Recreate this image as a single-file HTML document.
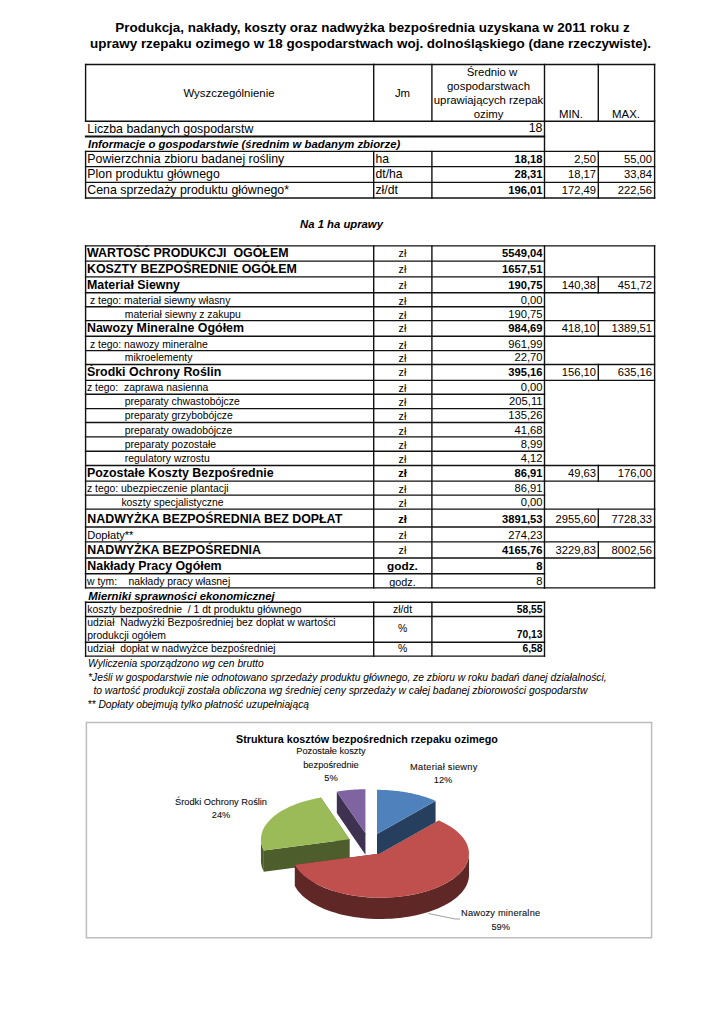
<!DOCTYPE html>
<html><head><meta charset="utf-8"><style>
html,body{margin:0;padding:0;background:#fff;}
body{width:724px;height:1024px;position:relative;overflow:hidden;font-family:"Liberation Sans", sans-serif;}
.t{position:absolute;white-space:pre;color:#000;}
.l{position:absolute;box-sizing:border-box;}
</style></head><body>
<div class="t" style="left:-127.50px;width:1000px;text-align:center;top:20.71px;font-size:13.45px;line-height:13.45px;font-weight:bold;font-style:normal;color:#000;">Produkcja, nakłady, koszty oraz nadwyżka bezpośrednia uzyskana w 2011 roku z</div>
<div class="t" style="left:-129.50px;width:1000px;text-align:center;top:37.31px;font-size:13.45px;line-height:13.45px;font-weight:bold;font-style:normal;color:#000;">uprawy rzepaku ozimego w 18 gospodarstwach woj. dolnośląskiego (dane rzeczywiste).</div>
<div class="t" style="left:-271.00px;width:1000px;text-align:center;top:87.75px;font-size:11.4px;line-height:11.4px;font-weight:normal;font-style:normal;color:#000;">Wyszczególnienie</div>
<div class="t" style="left:-97.50px;width:1000px;text-align:center;top:87.75px;font-size:11.4px;line-height:11.4px;font-weight:normal;font-style:normal;color:#000;">Jm</div>
<div class="t" style="left:-8.00px;width:1000px;text-align:center;top:66.95px;font-size:11.4px;line-height:11.4px;font-weight:normal;font-style:normal;color:#000;">Średnio w</div>
<div class="t" style="left:-11.50px;width:1000px;text-align:center;top:80.85px;font-size:11.4px;line-height:11.4px;font-weight:normal;font-style:normal;color:#000;">gospodarstwach</div>
<div class="t" style="left:-11.50px;width:1000px;text-align:center;top:94.75px;font-size:11.4px;line-height:11.4px;font-weight:normal;font-style:normal;color:#000;">uprawiających rzepak</div>
<div class="t" style="left:-11.50px;width:1000px;text-align:center;top:108.65px;font-size:11.4px;line-height:11.4px;font-weight:normal;font-style:normal;color:#000;">ozimy</div>
<div class="t" style="left:71.00px;width:1000px;text-align:center;top:108.75px;font-size:11.4px;line-height:11.4px;font-weight:normal;font-style:normal;color:#000;">MIN.</div>
<div class="t" style="left:126.00px;width:1000px;text-align:center;top:108.75px;font-size:11.4px;line-height:11.4px;font-weight:normal;font-style:normal;color:#000;">MAX.</div>
<div class="t" style="left:87.30px;top:122.65px;font-size:12.35px;line-height:12.35px;font-weight:normal;font-style:normal;color:#000;">Liczba badanych gospodarstw</div>
<div class="t" style="left:-457.50px;width:1000px;text-align:right;top:122.30px;font-size:12.4px;line-height:12.4px;font-weight:normal;font-style:normal;color:#000;">18</div>
<div class="t" style="left:88.00px;top:139.21px;font-size:11.33px;line-height:11.33px;font-weight:bold;font-style:italic;color:#000;">Informacje o gospodarstwie (średnim w badanym zbiorze)</div>
<div class="t" style="left:87.30px;top:153.35px;font-size:12.35px;line-height:12.35px;font-weight:normal;font-style:normal;color:#000;">Powierzchnia zbioru badanej rośliny</div>
<div class="t" style="left:375.50px;top:153.47px;font-size:12.2px;line-height:12.2px;font-weight:normal;font-style:normal;color:#000;">ha</div>
<div class="t" style="left:-457.50px;width:1000px;text-align:right;top:154.32px;font-size:11.2px;line-height:11.2px;font-weight:bold;font-style:normal;color:#000;">18,18</div>
<div class="t" style="left:-404.00px;width:1000px;text-align:right;top:154.32px;font-size:11.2px;line-height:11.2px;font-weight:normal;font-style:normal;color:#000;">2,50</div>
<div class="t" style="left:-348.00px;width:1000px;text-align:right;top:154.32px;font-size:11.2px;line-height:11.2px;font-weight:normal;font-style:normal;color:#000;">55,00</div>
<div class="t" style="left:87.30px;top:168.35px;font-size:12.35px;line-height:12.35px;font-weight:normal;font-style:normal;color:#000;">Plon produktu głównego</div>
<div class="t" style="left:375.50px;top:168.47px;font-size:12.2px;line-height:12.2px;font-weight:normal;font-style:normal;color:#000;">dt/ha</div>
<div class="t" style="left:-457.50px;width:1000px;text-align:right;top:169.32px;font-size:11.2px;line-height:11.2px;font-weight:bold;font-style:normal;color:#000;">28,31</div>
<div class="t" style="left:-404.00px;width:1000px;text-align:right;top:169.32px;font-size:11.2px;line-height:11.2px;font-weight:normal;font-style:normal;color:#000;">18,17</div>
<div class="t" style="left:-348.00px;width:1000px;text-align:right;top:169.32px;font-size:11.2px;line-height:11.2px;font-weight:normal;font-style:normal;color:#000;">33,84</div>
<div class="t" style="left:87.30px;top:184.35px;font-size:12.35px;line-height:12.35px;font-weight:normal;font-style:normal;color:#000;">Cena sprzedaży produktu głównego*</div>
<div class="t" style="left:375.50px;top:184.47px;font-size:12.2px;line-height:12.2px;font-weight:normal;font-style:normal;color:#000;">zł/dt</div>
<div class="t" style="left:-457.50px;width:1000px;text-align:right;top:185.32px;font-size:11.2px;line-height:11.2px;font-weight:bold;font-style:normal;color:#000;">196,01</div>
<div class="t" style="left:-404.00px;width:1000px;text-align:right;top:185.32px;font-size:11.2px;line-height:11.2px;font-weight:normal;font-style:normal;color:#000;">172,49</div>
<div class="t" style="left:-348.00px;width:1000px;text-align:right;top:185.32px;font-size:11.2px;line-height:11.2px;font-weight:normal;font-style:normal;color:#000;">222,56</div>
<div class="t" style="left:-158.50px;width:1000px;text-align:center;top:218.63px;font-size:11.3px;line-height:11.3px;font-weight:bold;font-style:italic;color:#000;">Na 1 ha uprawy</div>
<div class="t" style="left:87.00px;top:247.30px;font-size:12.4px;line-height:12.4px;font-weight:bold;font-style:normal;color:#000;">WARTOŚĆ PRODUKCJI&nbsp; OGÓŁEM</div>
<div class="t" style="left:-97.50px;width:1000px;text-align:center;top:248.46px;font-size:10.8px;line-height:10.8px;font-weight:normal;font-style:normal;color:#000;">zł</div>
<div class="t" style="left:-457.50px;width:1000px;text-align:right;top:248.22px;font-size:11.2px;line-height:11.2px;font-weight:bold;font-style:normal;color:#000;">5549,04</div>
<div class="t" style="left:87.00px;top:263.30px;font-size:12.4px;line-height:12.4px;font-weight:bold;font-style:normal;color:#000;">KOSZTY BEZPOŚREDNIE OGÓŁEM</div>
<div class="t" style="left:-97.50px;width:1000px;text-align:center;top:264.46px;font-size:10.8px;line-height:10.8px;font-weight:normal;font-style:normal;color:#000;">zł</div>
<div class="t" style="left:-457.50px;width:1000px;text-align:right;top:264.22px;font-size:11.2px;line-height:11.2px;font-weight:bold;font-style:normal;color:#000;">1657,51</div>
<div class="t" style="left:87.00px;top:279.30px;font-size:12.4px;line-height:12.4px;font-weight:bold;font-style:normal;color:#000;">Materiał Siewny</div>
<div class="t" style="left:-97.50px;width:1000px;text-align:center;top:280.46px;font-size:10.8px;line-height:10.8px;font-weight:normal;font-style:normal;color:#000;">zł</div>
<div class="t" style="left:-457.50px;width:1000px;text-align:right;top:280.22px;font-size:11.2px;line-height:11.2px;font-weight:bold;font-style:normal;color:#000;">190,75</div>
<div class="t" style="left:-404.00px;width:1000px;text-align:right;top:280.22px;font-size:11.2px;line-height:11.2px;font-weight:normal;font-style:normal;color:#000;">140,38</div>
<div class="t" style="left:-348.00px;width:1000px;text-align:right;top:280.22px;font-size:11.2px;line-height:11.2px;font-weight:normal;font-style:normal;color:#000;">451,72</div>
<div class="t" style="left:90.00px;top:296.30px;font-size:10.4px;line-height:10.4px;font-weight:normal;font-style:normal;color:#000;">z tego: materiał siewny własny</div>
<div class="t" style="left:-97.50px;width:1000px;text-align:center;top:295.76px;font-size:10.8px;line-height:10.8px;font-weight:normal;font-style:normal;color:#000;">zł</div>
<div class="t" style="left:-457.50px;width:1000px;text-align:right;top:294.92px;font-size:11.2px;line-height:11.2px;font-weight:normal;font-style:normal;color:#000;">0,00</div>
<div class="t" style="left:124.80px;top:310.30px;font-size:10.4px;line-height:10.4px;font-weight:normal;font-style:normal;color:#000;">materiał siewny z zakupu</div>
<div class="t" style="left:-97.50px;width:1000px;text-align:center;top:309.76px;font-size:10.8px;line-height:10.8px;font-weight:normal;font-style:normal;color:#000;">zł</div>
<div class="t" style="left:-457.50px;width:1000px;text-align:right;top:308.92px;font-size:11.2px;line-height:11.2px;font-weight:normal;font-style:normal;color:#000;">190,75</div>
<div class="t" style="left:87.00px;top:322.30px;font-size:12.4px;line-height:12.4px;font-weight:bold;font-style:normal;color:#000;">Nawozy Mineralne Ogółem</div>
<div class="t" style="left:-97.50px;width:1000px;text-align:center;top:323.46px;font-size:10.8px;line-height:10.8px;font-weight:normal;font-style:normal;color:#000;">zł</div>
<div class="t" style="left:-457.50px;width:1000px;text-align:right;top:323.22px;font-size:11.2px;line-height:11.2px;font-weight:bold;font-style:normal;color:#000;">984,69</div>
<div class="t" style="left:-404.00px;width:1000px;text-align:right;top:323.22px;font-size:11.2px;line-height:11.2px;font-weight:normal;font-style:normal;color:#000;">418,10</div>
<div class="t" style="left:-348.00px;width:1000px;text-align:right;top:323.22px;font-size:11.2px;line-height:11.2px;font-weight:normal;font-style:normal;color:#000;">1389,51</div>
<div class="t" style="left:90.00px;top:340.30px;font-size:10.4px;line-height:10.4px;font-weight:normal;font-style:normal;color:#000;">z tego: nawozy mineralne</div>
<div class="t" style="left:-97.50px;width:1000px;text-align:center;top:339.76px;font-size:10.8px;line-height:10.8px;font-weight:normal;font-style:normal;color:#000;">zł</div>
<div class="t" style="left:-457.50px;width:1000px;text-align:right;top:338.92px;font-size:11.2px;line-height:11.2px;font-weight:normal;font-style:normal;color:#000;">961,99</div>
<div class="t" style="left:124.80px;top:353.30px;font-size:10.4px;line-height:10.4px;font-weight:normal;font-style:normal;color:#000;">mikroelementy</div>
<div class="t" style="left:-97.50px;width:1000px;text-align:center;top:352.76px;font-size:10.8px;line-height:10.8px;font-weight:normal;font-style:normal;color:#000;">zł</div>
<div class="t" style="left:-457.50px;width:1000px;text-align:right;top:351.92px;font-size:11.2px;line-height:11.2px;font-weight:normal;font-style:normal;color:#000;">22,70</div>
<div class="t" style="left:87.00px;top:366.30px;font-size:12.4px;line-height:12.4px;font-weight:bold;font-style:normal;color:#000;">Środki Ochrony Roślin</div>
<div class="t" style="left:-97.50px;width:1000px;text-align:center;top:367.46px;font-size:10.8px;line-height:10.8px;font-weight:normal;font-style:normal;color:#000;">zł</div>
<div class="t" style="left:-457.50px;width:1000px;text-align:right;top:367.22px;font-size:11.2px;line-height:11.2px;font-weight:bold;font-style:normal;color:#000;">395,16</div>
<div class="t" style="left:-404.00px;width:1000px;text-align:right;top:367.22px;font-size:11.2px;line-height:11.2px;font-weight:normal;font-style:normal;color:#000;">156,10</div>
<div class="t" style="left:-348.00px;width:1000px;text-align:right;top:367.22px;font-size:11.2px;line-height:11.2px;font-weight:normal;font-style:normal;color:#000;">635,16</div>
<div class="t" style="left:87.00px;top:383.30px;font-size:10.4px;line-height:10.4px;font-weight:normal;font-style:normal;color:#000;">z tego:&nbsp; zaprawa nasienna</div>
<div class="t" style="left:-97.50px;width:1000px;text-align:center;top:382.76px;font-size:10.8px;line-height:10.8px;font-weight:normal;font-style:normal;color:#000;">zł</div>
<div class="t" style="left:-457.50px;width:1000px;text-align:right;top:381.92px;font-size:11.2px;line-height:11.2px;font-weight:normal;font-style:normal;color:#000;">0,00</div>
<div class="t" style="left:124.80px;top:397.30px;font-size:10.4px;line-height:10.4px;font-weight:normal;font-style:normal;color:#000;">preparaty chwastobójcze</div>
<div class="t" style="left:-97.50px;width:1000px;text-align:center;top:396.76px;font-size:10.8px;line-height:10.8px;font-weight:normal;font-style:normal;color:#000;">zł</div>
<div class="t" style="left:-457.50px;width:1000px;text-align:right;top:395.92px;font-size:11.2px;line-height:11.2px;font-weight:normal;font-style:normal;color:#000;">205,11</div>
<div class="t" style="left:124.80px;top:411.30px;font-size:10.4px;line-height:10.4px;font-weight:normal;font-style:normal;color:#000;">preparaty grzybobójcze</div>
<div class="t" style="left:-97.50px;width:1000px;text-align:center;top:410.76px;font-size:10.8px;line-height:10.8px;font-weight:normal;font-style:normal;color:#000;">zł</div>
<div class="t" style="left:-457.50px;width:1000px;text-align:right;top:409.92px;font-size:11.2px;line-height:11.2px;font-weight:normal;font-style:normal;color:#000;">135,26</div>
<div class="t" style="left:124.80px;top:426.30px;font-size:10.4px;line-height:10.4px;font-weight:normal;font-style:normal;color:#000;">preparaty owadobójcze</div>
<div class="t" style="left:-97.50px;width:1000px;text-align:center;top:425.76px;font-size:10.8px;line-height:10.8px;font-weight:normal;font-style:normal;color:#000;">zł</div>
<div class="t" style="left:-457.50px;width:1000px;text-align:right;top:424.92px;font-size:11.2px;line-height:11.2px;font-weight:normal;font-style:normal;color:#000;">41,68</div>
<div class="t" style="left:124.80px;top:440.30px;font-size:10.4px;line-height:10.4px;font-weight:normal;font-style:normal;color:#000;">preparaty pozostałe</div>
<div class="t" style="left:-97.50px;width:1000px;text-align:center;top:439.76px;font-size:10.8px;line-height:10.8px;font-weight:normal;font-style:normal;color:#000;">zł</div>
<div class="t" style="left:-457.50px;width:1000px;text-align:right;top:438.92px;font-size:11.2px;line-height:11.2px;font-weight:normal;font-style:normal;color:#000;">8,99</div>
<div class="t" style="left:124.80px;top:454.30px;font-size:10.4px;line-height:10.4px;font-weight:normal;font-style:normal;color:#000;">regulatory wzrostu</div>
<div class="t" style="left:-97.50px;width:1000px;text-align:center;top:453.76px;font-size:10.8px;line-height:10.8px;font-weight:normal;font-style:normal;color:#000;">zł</div>
<div class="t" style="left:-457.50px;width:1000px;text-align:right;top:452.92px;font-size:11.2px;line-height:11.2px;font-weight:normal;font-style:normal;color:#000;">4,12</div>
<div class="t" style="left:87.00px;top:467.30px;font-size:12.4px;line-height:12.4px;font-weight:bold;font-style:normal;color:#000;">Pozostałe Koszty Bezpośrednie</div>
<div class="t" style="left:-97.50px;width:1000px;text-align:center;top:468.29px;font-size:11.0px;line-height:11.0px;font-weight:bold;font-style:normal;color:#000;">zł</div>
<div class="t" style="left:-457.50px;width:1000px;text-align:right;top:468.22px;font-size:11.2px;line-height:11.2px;font-weight:bold;font-style:normal;color:#000;">86,91</div>
<div class="t" style="left:-404.00px;width:1000px;text-align:right;top:468.22px;font-size:11.2px;line-height:11.2px;font-weight:normal;font-style:normal;color:#000;">49,63</div>
<div class="t" style="left:-348.00px;width:1000px;text-align:right;top:468.22px;font-size:11.2px;line-height:11.2px;font-weight:normal;font-style:normal;color:#000;">176,00</div>
<div class="t" style="left:87.00px;top:484.30px;font-size:10.4px;line-height:10.4px;font-weight:normal;font-style:normal;color:#000;">z tego: ubezpieczenie plantacji</div>
<div class="t" style="left:-97.50px;width:1000px;text-align:center;top:483.76px;font-size:10.8px;line-height:10.8px;font-weight:normal;font-style:normal;color:#000;">zł</div>
<div class="t" style="left:-457.50px;width:1000px;text-align:right;top:482.92px;font-size:11.2px;line-height:11.2px;font-weight:normal;font-style:normal;color:#000;">86,91</div>
<div class="t" style="left:121.40px;top:498.30px;font-size:10.4px;line-height:10.4px;font-weight:normal;font-style:normal;color:#000;">koszty specjalistyczne</div>
<div class="t" style="left:-97.50px;width:1000px;text-align:center;top:497.76px;font-size:10.8px;line-height:10.8px;font-weight:normal;font-style:normal;color:#000;">zł</div>
<div class="t" style="left:-457.50px;width:1000px;text-align:right;top:496.92px;font-size:11.2px;line-height:11.2px;font-weight:normal;font-style:normal;color:#000;">0,00</div>
<div class="t" style="left:87.30px;top:513.30px;font-size:12.4px;line-height:12.4px;font-weight:bold;font-style:normal;color:#000;">NADWYŻKA BEZPOŚREDNIA BEZ DOPŁAT</div>
<div class="t" style="left:-97.50px;width:1000px;text-align:center;top:514.29px;font-size:11.0px;line-height:11.0px;font-weight:bold;font-style:normal;color:#000;">zł</div>
<div class="t" style="left:-457.50px;width:1000px;text-align:right;top:514.22px;font-size:11.2px;line-height:11.2px;font-weight:bold;font-style:normal;color:#000;">3891,53</div>
<div class="t" style="left:-404.00px;width:1000px;text-align:right;top:514.22px;font-size:11.2px;line-height:11.2px;font-weight:normal;font-style:normal;color:#000;">2955,60</div>
<div class="t" style="left:-348.00px;width:1000px;text-align:right;top:514.22px;font-size:11.2px;line-height:11.2px;font-weight:normal;font-style:normal;color:#000;">7728,33</div>
<div class="t" style="left:87.20px;top:530.30px;font-size:11.1px;line-height:11.1px;font-weight:normal;font-style:normal;color:#000;">Dopłaty**</div>
<div class="t" style="left:-97.50px;width:1000px;text-align:center;top:529.96px;font-size:10.8px;line-height:10.8px;font-weight:normal;font-style:normal;color:#000;">zł</div>
<div class="t" style="left:-457.50px;width:1000px;text-align:right;top:529.92px;font-size:11.2px;line-height:11.2px;font-weight:normal;font-style:normal;color:#000;">274,23</div>
<div class="t" style="left:87.30px;top:544.30px;font-size:12.4px;line-height:12.4px;font-weight:bold;font-style:normal;color:#000;">NADWYŻKA BEZPOŚREDNIA</div>
<div class="t" style="left:-97.50px;width:1000px;text-align:center;top:545.46px;font-size:10.8px;line-height:10.8px;font-weight:normal;font-style:normal;color:#000;">zł</div>
<div class="t" style="left:-457.50px;width:1000px;text-align:right;top:545.22px;font-size:11.2px;line-height:11.2px;font-weight:bold;font-style:normal;color:#000;">4165,76</div>
<div class="t" style="left:-404.00px;width:1000px;text-align:right;top:545.22px;font-size:11.2px;line-height:11.2px;font-weight:normal;font-style:normal;color:#000;">3229,83</div>
<div class="t" style="left:-348.00px;width:1000px;text-align:right;top:545.22px;font-size:11.2px;line-height:11.2px;font-weight:normal;font-style:normal;color:#000;">8002,56</div>
<div class="t" style="left:87.30px;top:560.30px;font-size:12.4px;line-height:12.4px;font-weight:bold;font-style:normal;color:#000;">Nakłady Pracy Ogółem</div>
<div class="t" style="left:-97.50px;width:1000px;text-align:center;top:560.61px;font-size:11.8px;line-height:11.8px;font-weight:bold;font-style:normal;color:#000;">godz.</div>
<div class="t" style="left:-457.50px;width:1000px;text-align:right;top:561.22px;font-size:11.2px;line-height:11.2px;font-weight:bold;font-style:normal;color:#000;">8</div>
<div class="t" style="left:87.00px;top:577.30px;font-size:10.4px;line-height:10.4px;font-weight:normal;font-style:normal;color:#000;">w tym: &nbsp;&nbsp; nakłady pracy własnej</div>
<div class="t" style="left:-97.50px;width:1000px;text-align:center;top:576.76px;font-size:10.8px;line-height:10.8px;font-weight:normal;font-style:normal;color:#000;">godz.</div>
<div class="t" style="left:-457.50px;width:1000px;text-align:right;top:575.92px;font-size:11.2px;line-height:11.2px;font-weight:normal;font-style:normal;color:#000;">8</div>
<div class="t" style="left:88.30px;top:590.51px;font-size:11.33px;line-height:11.33px;font-weight:bold;font-style:italic;color:#000;">Mierniki sprawności ekonomicznej</div>
<div class="t" style="left:87.30px;top:604.50px;font-size:10.4px;line-height:10.4px;font-weight:normal;font-style:normal;color:#000;">koszty bezpośrednie&nbsp; / 1 dt produktu głównego</div>
<div class="t" style="left:-97.50px;width:1000px;text-align:center;top:604.50px;font-size:10.4px;line-height:10.4px;font-weight:normal;font-style:normal;color:#000;">zł/dt</div>
<div class="t" style="left:-457.50px;width:1000px;text-align:right;top:604.58px;font-size:10.3px;line-height:10.3px;font-weight:bold;font-style:normal;color:#000;">58,55</div>
<div class="t" style="left:87.30px;top:617.50px;font-size:10.4px;line-height:10.4px;font-weight:normal;font-style:normal;color:#000;">udział&nbsp; Nadwyżki Bezpośredniej bez dopłat w wartości</div>
<div class="t" style="left:87.30px;top:630.50px;font-size:10.4px;line-height:10.4px;font-weight:normal;font-style:normal;color:#000;">produkcji ogółem</div>
<div class="t" style="left:-97.50px;width:1000px;text-align:center;top:624.00px;font-size:10.4px;line-height:10.4px;font-weight:normal;font-style:normal;color:#000;">%</div>
<div class="t" style="left:-457.50px;width:1000px;text-align:right;top:630.28px;font-size:10.3px;line-height:10.3px;font-weight:bold;font-style:normal;color:#000;">70,13</div>
<div class="t" style="left:87.30px;top:643.50px;font-size:10.4px;line-height:10.4px;font-weight:normal;font-style:normal;color:#000;">udział&nbsp; dopłat w nadwyżce bezpośredniej</div>
<div class="t" style="left:-97.50px;width:1000px;text-align:center;top:643.50px;font-size:10.4px;line-height:10.4px;font-weight:normal;font-style:normal;color:#000;">%</div>
<div class="t" style="left:-457.50px;width:1000px;text-align:right;top:644.08px;font-size:10.3px;line-height:10.3px;font-weight:bold;font-style:normal;color:#000;">6,58</div>
<div class="t" style="left:88.00px;top:658.68px;font-size:10.3px;line-height:10.3px;font-weight:normal;font-style:italic;color:#000;">Wyliczenia sporządzono wg cen brutto</div>
<div class="t" style="left:88.00px;top:672.68px;font-size:10.3px;line-height:10.3px;font-weight:normal;font-style:italic;color:#000;">*Jeśli w gospodarstwie nie odnotowano sprzedaży produktu głównego, ze zbioru w roku badań danej działalności,</div>
<div class="t" style="left:93.40px;top:686.48px;font-size:10.3px;line-height:10.3px;font-weight:normal;font-style:italic;color:#000;">to wartość produkcji została obliczona wg średniej ceny sprzedaży w całej badanej zbiorowości gospodarstw</div>
<div class="t" style="left:87.50px;top:700.08px;font-size:10.3px;line-height:10.3px;font-weight:normal;font-style:italic;color:#000;">** Dopłaty obejmują tylko płatność uzupełniającą</div>
<div class="t" style="left:-133.00px;width:1000px;text-align:center;top:733.51px;font-size:10.74px;line-height:10.74px;font-weight:bold;font-style:normal;color:#000;">Struktura kosztów bezpośrednich rzepaku ozimego</div>
<div class="t" style="left:-169.00px;width:1000px;text-align:center;top:747.47px;font-size:9.25px;line-height:9.25px;font-weight:normal;font-style:normal;color:#111;;-webkit-text-stroke:0.1px #111">Pozostałe koszty</div>
<div class="t" style="left:-169.00px;width:1000px;text-align:center;top:760.77px;font-size:9.25px;line-height:9.25px;font-weight:normal;font-style:normal;color:#111;;-webkit-text-stroke:0.1px #111">bezpośrednie</div>
<div class="t" style="left:-169.00px;width:1000px;text-align:center;top:774.17px;font-size:9.25px;line-height:9.25px;font-weight:normal;font-style:normal;color:#111;;-webkit-text-stroke:0.1px #111">5%</div>
<div class="t" style="left:-56.20px;width:1000px;text-align:center;top:762.87px;font-size:9.25px;line-height:9.25px;font-weight:normal;font-style:normal;color:#111;letter-spacing:0.25px;-webkit-text-stroke:0.1px #111">Materiał siewny</div>
<div class="t" style="left:-57.00px;width:1000px;text-align:center;top:776.17px;font-size:9.25px;line-height:9.25px;font-weight:normal;font-style:normal;color:#111;;-webkit-text-stroke:0.1px #111">12%</div>
<div class="t" style="left:-279.00px;width:1000px;text-align:center;top:797.87px;font-size:9.25px;line-height:9.25px;font-weight:normal;font-style:normal;color:#111;;-webkit-text-stroke:0.1px #111">Środki Ochrony Roślin</div>
<div class="t" style="left:-279.00px;width:1000px;text-align:center;top:811.17px;font-size:9.25px;line-height:9.25px;font-weight:normal;font-style:normal;color:#111;;-webkit-text-stroke:0.1px #111">24%</div>
<div class="t" style="left:0.70px;width:1000px;text-align:center;top:908.67px;font-size:9.25px;line-height:9.25px;font-weight:normal;font-style:normal;color:#111;letter-spacing:0.2px;-webkit-text-stroke:0.1px #111">Nawozy mineralne</div>
<div class="t" style="left:0.70px;width:1000px;text-align:center;top:922.77px;font-size:9.25px;line-height:9.25px;font-weight:normal;font-style:normal;color:#111;;-webkit-text-stroke:0.1px #111">59%</div>
<svg style="position:absolute;left:0;top:0" width="724" height="1024" viewBox="0 0 724 1024"><path d="M365.44,833.36 L336.81,791.63 L336.81,812.93 L365.44,854.66Z" fill="#3F3150"/><path d="M365.44,833.36 L365.44,789.26 L365.44,810.56 L365.44,854.66Z" fill="#3F3150"/><path d="M365.44,833.36 L336.81,791.63 L337.27,791.55 L337.73,791.47 L338.19,791.40 L338.66,791.32 L339.12,791.25 L339.59,791.18 L340.05,791.11 L340.52,791.04 L340.98,790.97 L341.45,790.91 L341.92,790.84 L342.39,790.78 L342.86,790.72 L343.33,790.65 L343.80,790.60 L344.27,790.54 L344.74,790.48 L345.21,790.42 L345.69,790.37 L346.16,790.32 L346.64,790.26 L347.11,790.21 L347.59,790.16 L348.06,790.11 L348.54,790.07 L349.02,790.02 L349.49,789.98 L349.97,789.93 L350.45,789.89 L350.93,789.85 L351.41,789.81 L351.89,789.78 L352.37,789.74 L352.85,789.70 L353.33,789.67 L353.81,789.64 L354.30,789.61 L354.78,789.58 L355.26,789.55 L355.74,789.52 L356.23,789.50 L356.71,789.47 L357.19,789.45 L357.68,789.43 L358.16,789.41 L358.65,789.39 L359.13,789.37 L359.62,789.35 L360.10,789.34 L360.59,789.32 L361.07,789.31 L361.56,789.30 L362.04,789.29 L362.53,789.28 L363.01,789.27 L363.50,789.27 L363.99,789.26 L364.47,789.26 L364.96,789.26 L365.44,789.26Z" fill="#8064A2"/><path d="M376.99,833.94 L376.99,789.84 L376.99,811.14 L376.99,855.24Z" fill="#263F5E"/><path d="M376.99,833.94 L435.55,800.88 L435.55,822.18 L376.99,855.24Z" fill="#263F5E"/><path d="M376.99,833.94 L376.99,789.84 L378.05,789.85 L379.12,789.86 L380.19,789.87 L381.25,789.89 L382.32,789.92 L383.38,789.96 L384.44,790.00 L385.51,790.05 L386.57,790.10 L387.63,790.16 L388.69,790.23 L389.74,790.30 L390.80,790.38 L391.85,790.47 L392.90,790.56 L393.95,790.66 L394.99,790.77 L396.04,790.88 L397.08,790.99 L398.11,791.12 L399.15,791.25 L400.18,791.38 L401.21,791.53 L402.23,791.68 L403.25,791.83 L404.27,791.99 L405.28,792.16 L406.29,792.33 L407.29,792.51 L408.29,792.69 L409.29,792.89 L410.28,793.08 L411.26,793.29 L412.24,793.49 L413.22,793.71 L414.19,793.93 L415.16,794.16 L416.11,794.39 L417.07,794.63 L418.02,794.87 L418.96,795.12 L419.89,795.37 L420.82,795.63 L421.75,795.90 L422.66,796.17 L423.57,796.45 L424.48,796.73 L425.37,797.02 L426.26,797.31 L427.15,797.61 L428.02,797.91 L428.89,798.22 L429.75,798.54 L430.60,798.86 L431.45,799.18 L432.28,799.51 L433.11,799.85 L433.93,800.18 L434.74,800.53 L435.55,800.88Z" fill="#4F81BD"/><path d="M349.45,839.26 L263.85,850.46 L263.85,871.76 L349.45,860.56Z" fill="#4D5D2B"/><path d="M349.45,839.26 L320.82,797.54 L320.82,818.84 L349.45,860.56Z" fill="#4D5D2B"/><path d="M263.85,850.46 L263.75,850.27 L263.66,850.09 L263.57,849.91 L263.47,849.72 L263.39,849.54 L263.30,849.36 L263.21,849.17 L263.13,848.99 L263.05,848.81 L262.96,848.62 L262.89,848.44 L262.81,848.25 L262.73,848.07 L262.66,847.88 L262.58,847.70 L262.51,847.51 L262.44,847.33 L262.37,847.14 L262.31,846.96 L262.24,846.77 L262.18,846.59 L262.12,846.40 L262.05,846.21 L262.00,846.03 L261.94,845.84 L261.88,845.65 L261.83,845.47 L261.78,845.28 L261.73,845.09 L261.68,844.91 L261.63,844.72 L261.58,844.53 L261.54,844.34 L261.50,844.16 L261.45,843.97 L261.41,843.78 L261.38,843.59 L261.34,843.41 L261.31,843.22 L261.27,843.03 L261.24,842.84 L261.21,842.66 L261.18,842.47 L261.16,842.28 L261.13,842.09 L261.11,841.90 L261.09,841.71 L261.07,841.53 L261.05,841.34 L261.03,841.15 L261.01,840.96 L261.00,840.77 L260.99,840.58 L260.98,840.40 L260.97,840.21 L260.96,840.02 L260.96,839.83 L260.95,839.64 L260.95,839.45 L260.95,839.26 L260.95,860.56 L260.95,860.75 L260.95,860.94 L260.96,861.13 L260.96,861.32 L260.97,861.51 L260.98,861.70 L260.99,861.88 L261.00,862.07 L261.01,862.26 L261.03,862.45 L261.05,862.64 L261.07,862.83 L261.09,863.01 L261.11,863.20 L261.13,863.39 L261.16,863.58 L261.18,863.77 L261.21,863.96 L261.24,864.14 L261.27,864.33 L261.31,864.52 L261.34,864.71 L261.38,864.89 L261.41,865.08 L261.45,865.27 L261.50,865.46 L261.54,865.64 L261.58,865.83 L261.63,866.02 L261.68,866.21 L261.73,866.39 L261.78,866.58 L261.83,866.77 L261.88,866.95 L261.94,867.14 L262.00,867.33 L262.05,867.51 L262.12,867.70 L262.18,867.89 L262.24,868.07 L262.31,868.26 L262.37,868.44 L262.44,868.63 L262.51,868.81 L262.58,869.00 L262.66,869.18 L262.73,869.37 L262.81,869.55 L262.89,869.74 L262.96,869.92 L263.05,870.11 L263.13,870.29 L263.21,870.47 L263.30,870.66 L263.39,870.84 L263.47,871.02 L263.57,871.21 L263.66,871.39 L263.75,871.57 L263.85,871.76Z" fill="#4D5D2B"/><path d="M349.45,839.26 L263.85,850.46 L263.31,849.39 L262.83,848.31 L262.41,847.23 L262.03,846.15 L261.72,845.06 L261.45,843.97 L261.25,842.87 L261.09,841.77 L260.99,840.67 L260.95,839.57 L260.96,838.47 L261.03,837.37 L261.15,836.27 L261.33,835.17 L261.56,834.08 L261.85,832.99 L262.19,831.90 L262.59,830.81 L263.04,829.74 L263.54,828.66 L264.10,827.60 L264.71,826.54 L265.38,825.49 L266.09,824.45 L266.86,823.42 L267.68,822.40 L268.55,821.38 L269.47,820.38 L270.44,819.39 L271.46,818.42 L272.53,817.45 L273.65,816.50 L274.81,815.57 L276.02,814.65 L277.28,813.74 L278.58,812.85 L279.92,811.98 L281.31,811.12 L282.74,810.28 L284.22,809.46 L285.73,808.66 L287.28,807.88 L288.87,807.11 L290.50,806.37 L292.17,805.65 L293.87,804.94 L295.61,804.26 L297.38,803.60 L299.18,802.97 L301.01,802.35 L302.88,801.76 L304.77,801.20 L306.69,800.65 L308.64,800.13 L310.61,799.64 L312.61,799.17 L314.63,798.72 L316.67,798.30 L318.74,797.90 L320.82,797.54Z" fill="#9BBB59"/><path d="M380.50,853.59 L439.06,820.53 L439.06,841.83 L380.50,874.89Z" fill="#5F2726"/><path d="M380.50,853.59 L294.89,864.78 L294.89,886.08 L380.50,874.89Z" fill="#5F2726"/><path d="M469.00,853.59 L468.89,855.71 L468.59,857.83 L468.08,859.93 L467.37,862.02 L466.45,864.09 L465.34,866.14 L464.03,868.16 L462.53,870.14 L460.84,872.09 L458.96,873.99 L456.90,875.84 L454.67,877.65 L452.26,879.40 L449.69,881.09 L446.96,882.71 L444.07,884.27 L441.04,885.76 L437.87,887.17 L434.56,888.50 L431.13,889.76 L427.59,890.93 L423.93,892.02 L420.17,893.01 L416.33,893.92 L412.39,894.73 L408.39,895.44 L404.32,896.06 L400.20,896.58 L396.03,897.01 L391.82,897.33 L387.59,897.55 L383.34,897.67 L379.09,897.69 L374.83,897.60 L370.60,897.41 L366.38,897.13 L362.20,896.74 L358.06,896.25 L353.97,895.66 L349.94,894.98 L345.98,894.20 L342.11,893.33 L338.32,892.36 L334.63,891.31 L331.04,890.16 L327.57,888.94 L324.22,887.63 L321.01,886.24 L317.93,884.78 L314.99,883.24 L312.21,881.64 L309.58,879.97 L307.12,878.24 L304.82,876.46 L302.70,874.62 L300.77,872.73 L299.01,870.80 L297.45,868.83 L296.07,866.82 L294.89,864.78 L294.89,886.08 L296.07,888.12 L297.45,890.13 L299.01,892.10 L300.77,894.03 L302.70,895.92 L304.82,897.76 L307.12,899.54 L309.58,901.27 L312.21,902.94 L314.99,904.54 L317.93,906.08 L321.01,907.54 L324.22,908.93 L327.57,910.24 L331.04,911.46 L334.63,912.61 L338.32,913.66 L342.11,914.63 L345.98,915.50 L349.94,916.28 L353.97,916.96 L358.06,917.55 L362.20,918.04 L366.38,918.43 L370.60,918.71 L374.83,918.90 L379.09,918.99 L383.34,918.97 L387.59,918.85 L391.82,918.63 L396.03,918.31 L400.20,917.88 L404.32,917.36 L408.39,916.74 L412.39,916.03 L416.33,915.22 L420.17,914.31 L423.93,913.32 L427.59,912.23 L431.13,911.06 L434.56,909.80 L437.87,908.47 L441.04,907.06 L444.07,905.57 L446.96,904.01 L449.69,902.39 L452.26,900.70 L454.67,898.95 L456.90,897.14 L458.96,895.29 L460.84,893.39 L462.53,891.44 L464.03,889.46 L465.34,887.44 L466.45,885.39 L467.37,883.32 L468.08,881.23 L468.59,879.13 L468.89,877.01 L469.00,874.89Z" fill="#5F2726"/><path d="M380.50,853.59 L439.06,820.53 L443.07,822.40 L446.84,824.40 L450.35,826.52 L453.60,828.73 L456.56,831.04 L459.22,833.44 L461.58,835.92 L463.63,838.47 L465.36,841.07 L466.75,843.73 L467.82,846.42 L468.54,849.14 L468.93,851.87 L468.97,854.62 L468.67,857.36 L468.03,860.08 L467.05,862.78 L465.74,865.44 L464.10,868.06 L462.13,870.62 L459.85,873.12 L457.26,875.54 L454.37,877.88 L451.20,880.12 L447.75,882.26 L444.04,884.28 L440.09,886.19 L435.91,887.98 L431.51,889.63 L426.92,891.14 L422.14,892.50 L417.21,893.72 L412.13,894.78 L406.93,895.68 L401.63,896.42 L396.24,896.99 L390.80,897.39 L385.31,897.63 L379.81,897.69 L374.31,897.58 L368.83,897.31 L363.40,896.86 L358.04,896.25 L352.76,895.47 L347.59,894.53 L342.54,893.43 L337.65,892.18 L332.91,890.77 L328.37,889.23 L324.02,887.54 L319.89,885.73 L316.00,883.79 L312.36,881.73 L308.98,879.57 L305.88,877.30 L303.06,874.94 L300.55,872.50 L298.34,869.99 L296.46,867.41 L294.89,864.78Z" fill="#C0504D"/><polyline points="428.3,913.5 455.3,919 460,919" fill="none" stroke="#888" stroke-width="0.8"/></svg>
<svg style="position:absolute;left:0;top:0" width="724" height="1024" viewBox="0 0 724 1024"><line x1="84.90" y1="64.50" x2="655.30" y2="64.50" stroke="#111" stroke-width="1.4"/><line x1="84.90" y1="121.20" x2="655.30" y2="121.20" stroke="#111" stroke-width="1.4"/><line x1="85.60" y1="63.80" x2="85.60" y2="121.90" stroke="#111" stroke-width="1.4"/><line x1="373.70" y1="63.80" x2="373.70" y2="121.90" stroke="#111" stroke-width="1.4"/><line x1="431.90" y1="63.80" x2="431.90" y2="121.90" stroke="#111" stroke-width="1.4"/><line x1="598.30" y1="63.80" x2="598.30" y2="121.90" stroke="#111" stroke-width="1.4"/><line x1="544.50" y1="63.80" x2="544.50" y2="198.70" stroke="#111" stroke-width="1.4"/><line x1="654.60" y1="63.80" x2="654.60" y2="198.70" stroke="#111" stroke-width="1.4"/><line x1="84.90" y1="136.50" x2="545.20" y2="136.50" stroke="#111" stroke-width="2.2"/><line x1="84.90" y1="151.40" x2="655.30" y2="151.40" stroke="#111" stroke-width="1.4"/><line x1="84.90" y1="166.60" x2="655.30" y2="166.60" stroke="#111" stroke-width="1.4"/><line x1="84.90" y1="182.40" x2="655.30" y2="182.40" stroke="#111" stroke-width="1.4"/><line x1="84.90" y1="198.00" x2="655.30" y2="198.00" stroke="#111" stroke-width="1.4"/><line x1="85.60" y1="150.70" x2="85.60" y2="198.70" stroke="#111" stroke-width="1.4"/><line x1="373.70" y1="150.70" x2="373.70" y2="198.70" stroke="#111" stroke-width="1.4"/><line x1="431.90" y1="150.70" x2="431.90" y2="198.70" stroke="#111" stroke-width="1.4"/><line x1="598.30" y1="150.70" x2="598.30" y2="198.70" stroke="#111" stroke-width="1.4"/><line x1="84.90" y1="245.90" x2="655.30" y2="245.90" stroke="#111" stroke-width="1.4"/><line x1="84.90" y1="261.10" x2="545.20" y2="261.10" stroke="#111" stroke-width="1.4"/><line x1="84.90" y1="276.90" x2="545.20" y2="276.90" stroke="#111" stroke-width="1.4"/><line x1="84.90" y1="292.70" x2="545.20" y2="292.70" stroke="#111" stroke-width="1.4"/><line x1="543.80" y1="276.90" x2="655.30" y2="276.90" stroke="#111" stroke-width="1.4"/><line x1="543.80" y1="292.70" x2="655.30" y2="292.70" stroke="#111" stroke-width="1.4"/><line x1="598.30" y1="276.20" x2="598.30" y2="293.40" stroke="#111" stroke-width="1.4"/><line x1="84.90" y1="306.80" x2="545.20" y2="306.80" stroke="#111" stroke-width="1.4"/><line x1="84.90" y1="320.60" x2="545.20" y2="320.60" stroke="#111" stroke-width="1.4"/><line x1="84.90" y1="336.30" x2="545.20" y2="336.30" stroke="#111" stroke-width="1.4"/><line x1="543.80" y1="320.60" x2="655.30" y2="320.60" stroke="#111" stroke-width="1.4"/><line x1="543.80" y1="336.30" x2="655.30" y2="336.30" stroke="#111" stroke-width="1.4"/><line x1="598.30" y1="319.90" x2="598.30" y2="337.00" stroke="#111" stroke-width="1.4"/><line x1="84.90" y1="350.60" x2="545.20" y2="350.60" stroke="#111" stroke-width="1.4"/><line x1="84.90" y1="364.50" x2="545.20" y2="364.50" stroke="#111" stroke-width="1.4"/><line x1="84.90" y1="380.40" x2="545.20" y2="380.40" stroke="#111" stroke-width="1.4"/><line x1="543.80" y1="364.50" x2="655.30" y2="364.50" stroke="#111" stroke-width="1.4"/><line x1="543.80" y1="380.40" x2="655.30" y2="380.40" stroke="#111" stroke-width="1.4"/><line x1="598.30" y1="363.80" x2="598.30" y2="381.10" stroke="#111" stroke-width="1.4"/><line x1="84.90" y1="394.20" x2="545.20" y2="394.20" stroke="#111" stroke-width="1.4"/><line x1="84.90" y1="408.60" x2="545.20" y2="408.60" stroke="#111" stroke-width="1.4"/><line x1="84.90" y1="422.50" x2="545.20" y2="422.50" stroke="#111" stroke-width="1.4"/><line x1="84.90" y1="436.90" x2="545.20" y2="436.90" stroke="#111" stroke-width="1.4"/><line x1="84.90" y1="451.30" x2="545.20" y2="451.30" stroke="#111" stroke-width="1.4"/><line x1="84.90" y1="465.50" x2="545.20" y2="465.50" stroke="#111" stroke-width="1.4"/><line x1="84.90" y1="481.10" x2="545.20" y2="481.10" stroke="#111" stroke-width="1.4"/><line x1="543.80" y1="465.50" x2="655.30" y2="465.50" stroke="#111" stroke-width="1.4"/><line x1="543.80" y1="481.10" x2="655.30" y2="481.10" stroke="#111" stroke-width="1.4"/><line x1="598.30" y1="464.80" x2="598.30" y2="481.80" stroke="#111" stroke-width="1.4"/><line x1="84.90" y1="495.10" x2="545.20" y2="495.10" stroke="#111" stroke-width="1.4"/><line x1="84.90" y1="509.10" x2="545.20" y2="509.10" stroke="#111" stroke-width="1.4"/><line x1="84.90" y1="527.00" x2="545.20" y2="527.00" stroke="#111" stroke-width="1.4"/><line x1="543.80" y1="509.10" x2="655.30" y2="509.10" stroke="#111" stroke-width="1.4"/><line x1="543.80" y1="527.00" x2="655.30" y2="527.00" stroke="#111" stroke-width="1.4"/><line x1="598.30" y1="508.40" x2="598.30" y2="527.70" stroke="#111" stroke-width="1.4"/><line x1="84.90" y1="541.90" x2="545.20" y2="541.90" stroke="#111" stroke-width="1.4"/><line x1="84.90" y1="558.00" x2="545.20" y2="558.00" stroke="#111" stroke-width="1.4"/><line x1="543.80" y1="541.90" x2="655.30" y2="541.90" stroke="#111" stroke-width="1.4"/><line x1="543.80" y1="558.00" x2="655.30" y2="558.00" stroke="#111" stroke-width="1.4"/><line x1="598.30" y1="541.20" x2="598.30" y2="558.70" stroke="#111" stroke-width="1.4"/><line x1="84.90" y1="573.80" x2="545.20" y2="573.80" stroke="#111" stroke-width="1.4"/><line x1="84.90" y1="587.90" x2="545.20" y2="587.90" stroke="#111" stroke-width="1.4"/><line x1="543.80" y1="587.90" x2="655.30" y2="587.90" stroke="#111" stroke-width="1.4"/><line x1="85.60" y1="245.20" x2="85.60" y2="588.60" stroke="#111" stroke-width="1.4"/><line x1="373.70" y1="245.20" x2="373.70" y2="588.60" stroke="#111" stroke-width="1.4"/><line x1="431.90" y1="245.20" x2="431.90" y2="588.60" stroke="#111" stroke-width="1.4"/><line x1="544.50" y1="245.20" x2="544.50" y2="588.60" stroke="#111" stroke-width="1.4"/><line x1="654.60" y1="245.20" x2="654.60" y2="588.60" stroke="#111" stroke-width="1.4"/><line x1="84.90" y1="602.20" x2="545.20" y2="602.20" stroke="#111" stroke-width="1.4"/><line x1="84.90" y1="616.50" x2="545.20" y2="616.50" stroke="#111" stroke-width="1.4"/><line x1="84.90" y1="642.20" x2="545.20" y2="642.20" stroke="#111" stroke-width="1.4"/><line x1="84.90" y1="656.10" x2="545.20" y2="656.10" stroke="#111" stroke-width="1.4"/><line x1="85.60" y1="601.50" x2="85.60" y2="656.80" stroke="#111" stroke-width="1.4"/><line x1="373.70" y1="601.50" x2="373.70" y2="656.80" stroke="#111" stroke-width="1.4"/><line x1="431.90" y1="601.50" x2="431.90" y2="656.80" stroke="#111" stroke-width="1.4"/><line x1="544.50" y1="601.50" x2="544.50" y2="656.80" stroke="#111" stroke-width="1.4"/><rect x="86.4" y="722.5" width="565.2" height="215.3" fill="none" stroke="#bdbdbd" stroke-width="1.5"/></svg>
</body></html>
